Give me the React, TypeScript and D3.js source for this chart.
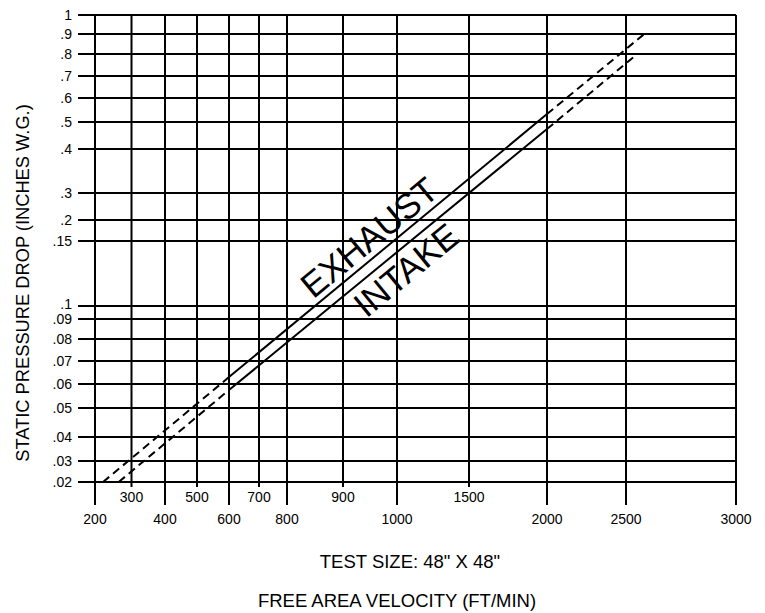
import React, { useEffect, useRef } from "react";
import * as d3 from "d3";

// velocity grid (ft/min) and pressure grid (in. w.g.)
const xTicks = [200, 300, 400, 500, 600, 700, 800, 900, 1000, 1500, 2000, 2500, 3000];
const xUpperRow = [300, 500, 700, 900, 1500];
const yTicks = [1, 0.9, 0.8, 0.7, 0.6, 0.5, 0.4, 0.3, 0.2, 0.15, 0.1, 0.09, 0.08, 0.07, 0.06, 0.05, 0.04, 0.03, 0.02];

// curves: dashed / solid / dashed segments between these points
const exhaustVel = [222, 600, 2000, 2583];
const exhaustDrop = [0.02, 0.063, 0.533, 0.9];
const intakeVel = [265, 600, 2000, 2551];
const intakeDrop = [0.02, 0.0575, 0.474, 0.8];

const segStyle = ["dash", "solid", "dash"];

// the printed chart grid is hand spaced, so the scales are piecewise
const xPix = [95, 131.5, 165, 197, 229, 259, 287, 343, 397, 469, 547, 626, 736];
const yPix = [15, 34, 54, 76, 98, 122, 149, 193, 220, 241, 306, 319, 339, 361, 384, 408, 437, 461, 482];

const W = 765;
const H = 613;
const FONT = "'Liberation Sans', Arial, sans-serif";

export default function App() {
  const ref = useRef<SVGSVGElement | null>(null);

  useEffect(() => {
    const svg = d3.select(ref.current);
    svg.selectAll("*").remove();

    const x = d3.scaleLinear().domain(xTicks).range(xPix);
    const y = d3.scaleLinear().domain(yTicks).range(yPix);

    const left = 78;
    const right = x(3000);
    const top = y(1);
    const bottom = y(0.02);

    const g = svg.append("g");

    // horizontal grid
    g.selectAll("line.h")
      .data(yTicks)
      .enter()
      .append("line")
      .attr("class", "h")
      .attr("x1", left)
      .attr("x2", right)
      .attr("y1", (d) => y(d))
      .attr("y2", (d) => y(d))
      .attr("stroke", "#000")
      .attr("stroke-width", 2);

    // vertical grid
    g.selectAll("line.v")
      .data(xTicks)
      .enter()
      .append("line")
      .attr("class", "v")
      .attr("x1", (d) => x(d))
      .attr("x2", (d) => x(d))
      .attr("y1", top)
      .attr("y2", (d) => (xUpperRow.includes(d) ? bottom + 5 : bottom + 23))
      .attr("stroke", "#000")
      .attr("stroke-width", 2);

    // y tick labels (.1 sits a touch high, as on the print)
    g.selectAll("text.yl")
      .data(yTicks)
      .enter()
      .append("text")
      .attr("class", "yl")
      .attr("x", 72)
      .attr("y", (d) => y(d) + (d === 0.1 ? 3 : 5))
      .attr("text-anchor", "end")
      .attr("font-family", FONT)
      .attr("font-size", 14)
      .text((d) => (d === 1 ? "1" : String(d).replace(/^0/, "")));

    // x tick labels (two staggered rows)
    g.selectAll("text.xl")
      .data(xTicks)
      .enter()
      .append("text")
      .attr("class", "xl")
      .attr("x", (d) => x(d))
      .attr("y", (d) => (xUpperRow.includes(d) ? bottom + 20 : bottom + 42))
      .attr("text-anchor", "middle")
      .attr("font-family", FONT)
      .attr("font-size", 14)
      .text((d) => String(d));

    const drawCurve = (vel: number[], drop: number[], label: string, labelVel: number, below: boolean) => {
      const pts = vel.map((v, i) => [x(v), y(drop[i])] as [number, number]);
      for (let i = 0; i < pts.length - 1; i++) {
        g.append("line")
          .attr("x1", pts[i][0])
          .attr("y1", pts[i][1])
          .attr("x2", pts[i + 1][0])
          .attr("y2", pts[i + 1][1])
          .attr("stroke", "#000")
          .attr("stroke-width", 2)
          .attr("stroke-dasharray", segStyle[i] === "dash" ? "8,5" : null);
      }
      const [a, b] = [pts[1], pts[2]];
      const lx = x(labelVel);
      const t = (lx - a[0]) / (b[0] - a[0]);
      const ly = a[1] + t * (b[1] - a[1]);
      const ang = (Math.atan2(b[1] - a[1], b[0] - a[0]) * 180) / Math.PI;
      g.append("text")
        .attr("transform", `translate(${lx},${ly}) rotate(${ang})`)
        .attr("text-anchor", "middle")
        .attr("dy", below ? 32 : -6)
        .attr("font-family", FONT)
        .attr("font-size", 35)
        .text(label);
    };

    drawCurve(exhaustVel, exhaustDrop, "EXHAUST", 970, false);
    drawCurve(intakeVel, intakeDrop, "INTAKE", 994, true);

    // axis titles
    svg.append("text")
      .attr("transform", `translate(29,283) rotate(-90)`)
      .attr("text-anchor", "middle")
      .attr("font-family", FONT)
      .attr("font-size", 18.3)
      .text("STATIC PRESSURE DROP (INCHES W.G.)");

    svg.append("text")
      .attr("x", 410)
      .attr("y", 568)
      .attr("text-anchor", "middle")
      .attr("font-family", FONT)
      .attr("font-size", 18.5)
      .text('TEST SIZE: 48" X 48"');

    svg.append("text")
      .attr("x", 397)
      .attr("y", 607)
      .attr("text-anchor", "middle")
      .attr("font-family", FONT)
      .attr("font-size", 18.5)
      .text("FREE AREA VELOCITY (FT/MIN)");
  }, []);

  return (
    <svg
      ref={ref}
      width={W}
      height={H}
      style={{ position: "absolute", left: 0, top: 0, background: "#fff" }}
    />
  );
}
